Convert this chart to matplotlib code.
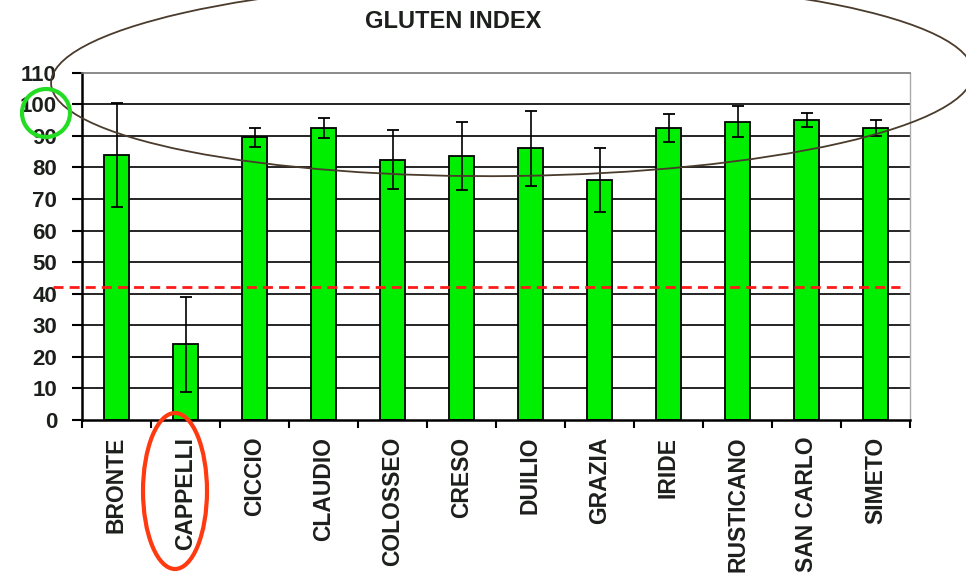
import numpy as np
import matplotlib
matplotlib.use("Agg")
import matplotlib.pyplot as plt
from matplotlib.patches import Ellipse
import matplotlib.transforms as mtransforms

# dati
varieties = ["BRONTE", "CAPPELLI", "CICCIO", "CLAUDIO", "COLOSSEO", "CRESO",
             "DUILIO", "GRAZIA", "IRIDE", "RUSTICANO", "SAN CARLO", "SIMETO"]
gluten_index = [84, 24, 89.5, 92.5, 82.5, 83.5, 86, 76, 92.5, 94.5, 95, 92.5]
gluten_err = [16.5, 15, 3, 3.3, 9.3, 10.8, 12, 10, 4.4, 5, 2.2, 2.6]
y_ticks = [0, 10, 20, 30, 40, 50, 60, 70, 80, 90, 100, 110]
threshold = 42

FONT = ["Liberation Sans", "DejaVu Sans"]
TXT = "#1c1f1c"

W, H = 966, 582
fig = plt.figure(figsize=(W / 100, H / 100), dpi=100)
fig.patch.set_facecolor("white")

# area del grafico in pixel
left, right, top, bottom = 82, 910, 72.7, 420
ax = fig.add_axes([left / W, 1 - bottom / H, (right - left) / W, (bottom - top) / H])

x = np.arange(len(varieties))
ax.hlines(y_ticks[1:-1], -0.5, len(varieties) - 0.5, color="black", lw=1.2, zorder=1)

ax.bar(x, gluten_index, width=0.36, color="#00ee00", edgecolor="black",
       linewidth=1.3, zorder=2)
ax.errorbar(x, gluten_index, yerr=gluten_err, fmt="none", ecolor="black",
            elinewidth=1.2, capsize=4.5, capthick=1.3, zorder=3)

ax.set_xlim(-0.5, len(varieties) - 0.5)
ax.set_ylim(0, 110)
ax.set_yticks(y_ticks)
ax.set_yticklabels([str(v) for v in y_ticks], fontsize=16, fontweight="bold",
                   family=FONT, color=TXT)
ax.tick_params(axis="y", direction="out", length=7, width=1.5, pad=11)

ax.set_xticks(x)
ax.set_xticklabels(varieties, rotation=90, fontsize=16.5, fontweight="bold",
                   family=FONT, color=TXT, va="top", ha="center")
ax.tick_params(axis="x", which="major", length=0, pad=12)
ax.set_xticks(np.arange(-0.5, len(varieties), 1), minor=True)
ax.tick_params(axis="x", which="minor", direction="out", length=6, width=1.5)

for s in ["left", "bottom"]:
    ax.spines[s].set_linewidth(1.8)
    ax.spines[s].set_color("black")
ax.spines["top"].set_color("#777777")
ax.spines["top"].set_linewidth(1.2)
ax.spines["right"].set_color("#aaaaaa")
ax.spines["right"].set_linewidth(1.0)

# linea soglia rossa tratteggiata
trans = mtransforms.blended_transform_factory(ax.transAxes, ax.transData)
ax.plot([(53 - left) / (right - left), (900 - left) / (right - left)],
        [threshold, threshold], transform=trans, color="#ff1a1a", lw=2,
        ls=(0, (3.6, 2.2)), clip_on=False, zorder=4)

fig.text(453 / W, 1 - 22 / H, "GLUTEN INDEX", ha="center", va="center",
         fontsize=17, fontweight="bold", family=FONT, color=TXT)


def px_ellipse(cx, cy, w, h, color, lw, angle=0):
    e = Ellipse((cx / W, 1 - cy / H), w / W, h / H, angle=angle, fill=False,
                edgecolor=color, lw=lw, transform=fig.transFigure, zorder=10)
    fig.add_artist(e)


# annotazioni sovrapposte
px_ellipse(512, 78, 922, 196, "#4a3b2c", 1.3, angle=1.2)
px_ellipse(46, 113, 48, 48, "#22dd22", 3)
px_ellipse(175, 491, 64, 156, "#ff3a10", 3)

fig.savefig("out.png", dpi=100)
